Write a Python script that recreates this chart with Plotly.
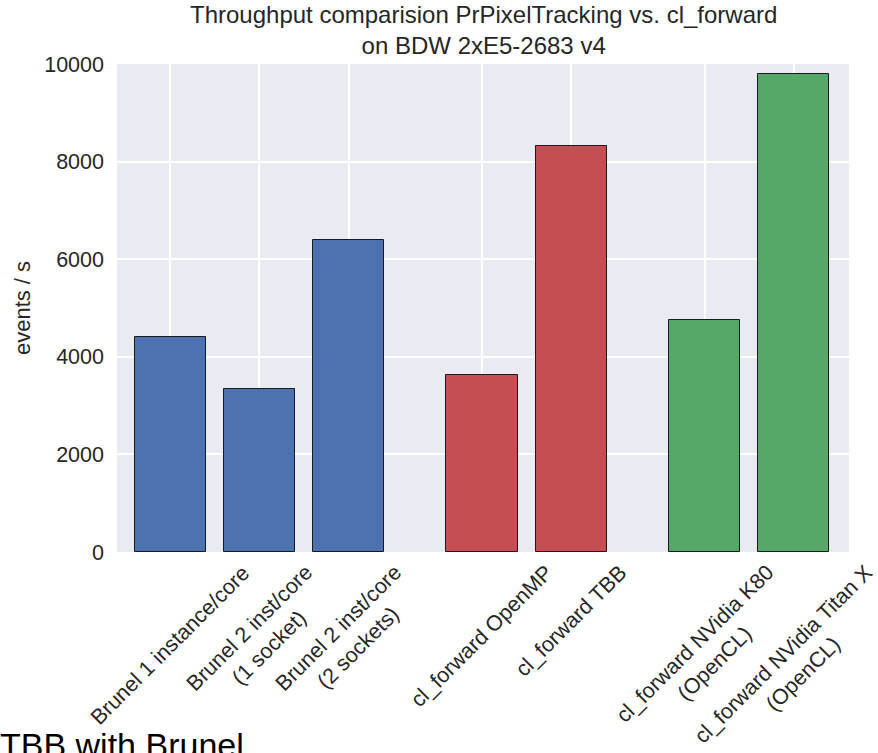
import plotly.graph_objects as go

categories = [
    "Brunel 1 instance/core",
    "Brunel 2 inst/core<br>(1 socket)",
    "Brunel 2 inst/core<br>(2 sockets)",
    "cl_forward OpenMP",
    "cl_forward TBB",
    "cl_forward NVidia K80<br>(OpenCL)",
    "cl_forward NVidia Titan X<br>(OpenCL)",
]
positions = [0, 1, 2, 3.5, 4.5, 6, 7]
values = [4400, 3340, 6400, 3620, 8310, 4750, 9800]
groups = ["cpu", "cpu", "cpu", "clcpu", "clcpu", "gpu", "gpu"]
group_colors = {"cpu": "#4C72B0", "clcpu": "#C44E52", "gpu": "#55A868"}
y_ticks = [0, 2000, 4000, 6000, 8000, 10000]
title_text = "Throughput comparision PrPixelTracking vs. cl_forward<br>on BDW 2xE5-2683 v4"

FONT = "Liberation Sans, Arial, Helvetica, sans-serif"
TXT = "#262626"

fig = go.Figure()
fig.add_trace(go.Bar(
    x=positions,
    y=values,
    width=0.8,
    marker=dict(color=[group_colors[g] for g in groups],
                line=dict(color="#1a1a1a", width=1)),
    showlegend=False,
))

for p, c in zip(positions, categories):
    fig.add_annotation(
        x=p, xref="x", y=0, yref="paper",
        text=c, textangle=-45, showarrow=False,
        xanchor="center", yanchor="top", yshift=-6, align="center",
        font=dict(family=FONT, size=21.5, color=TXT),
    )

fig.add_annotation(
    x=0.5, xref="paper", y=1, yref="paper",
    text=title_text, showarrow=False, xanchor="center", yanchor="middle", yshift=34,
    font=dict(family=FONT, size=24, color=TXT),
)

fig.add_annotation(
    x=0, xref="paper", y=0, yref="paper",
    text="TBB with Brunel", showarrow=False,
    xanchor="left", yanchor="top", xshift=-119, yshift=-172,
    font=dict(family=FONT, size=34, color="#000000"),
)

fig.update_layout(
    width=878, height=753,
    margin=dict(l=117, r=29, t=64, b=201),
    paper_bgcolor="white",
    plot_bgcolor="#EAEAF2",
    font=dict(family=FONT, size=21.5, color=TXT),
    bargap=0,
)
fig.update_xaxes(
    range=[-0.6, 7.62],
    tickvals=positions,
    showticklabels=False,
    showgrid=True, gridcolor="white", gridwidth=1.5,
    zeroline=False, showline=False, ticks="",
)
fig.update_yaxes(
    range=[0, 10000],
    tickvals=y_ticks,
    ticktext=[str(v) for v in y_ticks],
    showgrid=True, gridcolor="white", gridwidth=1.5,
    zeroline=False, showline=False, ticks="",
    ticklabelstandoff=12,
    title=dict(text="events / s", standoff=7, font=dict(family=FONT, size=22, color=TXT)),
    tickfont=dict(family=FONT, size=21.5, color=TXT),
)

fig.write_html("out.html", config={"displayModeBar": False},
               post_script="document.body.style.margin='0px';")
